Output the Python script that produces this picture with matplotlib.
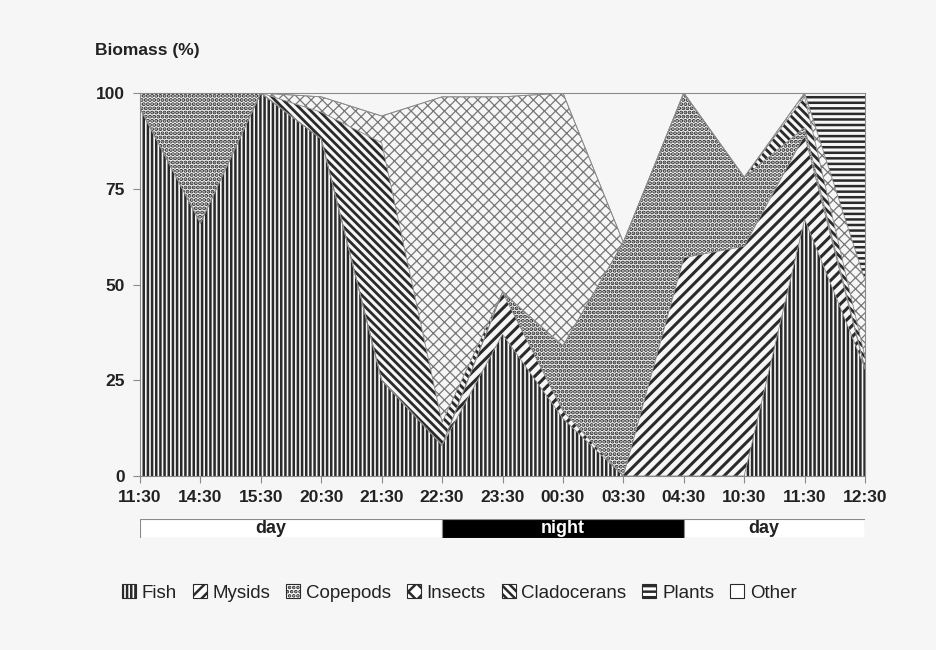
import numpy as np
import matplotlib.pyplot as plt
from matplotlib.patches import Patch

# sampling times (x categories)
times = ['11:30', '14:30', '15:30', '20:30', '21:30', '22:30', '23:30',
         '00:30', '03:30', '04:30', '10:30', '11:30', '12:30']

# biomass share (%) per prey group
fish = [96, 66, 100, 88, 25, 8, 37, 15, 0, 0, 0, 67, 28]
mysids = [0, 0, 0, 0, 0, 0, 11, 2, 0, 57, 60, 22, 0]
copepods = [4, 34, 0, 0, 0, 0, 0, 17, 61, 43, 18, 2, 0]
cladocerans = [0, 0, 0, 7, 62, 6, 0, 0, 0, 0, 0, 8, 3]
insects = [0, 0, 0, 4, 7, 85, 51, 66, 0, 0, 0, 1, 20]
plants = [0, 0, 0, 0, 0, 0, 0, 0, 0, 0, 0, 0, 49]
other = [0, 0, 0, 1, 6, 1, 1, 0, 39, 0, 22, 0, 0]

# day / night strip (category index ranges)
period_labels = ['day', 'night', 'day']
period_start = [0, 5, 9]
period_end = [5, 9, 12]

plt.rcParams['font.family'] = ['Liberation Sans', 'DejaVu Sans']
plt.rcParams['hatch.linewidth'] = 1.8

paper = '#f6f6f6'
ink = '#2a2a2a'
grey = '#8a8a8a'

fig = plt.figure(figsize=(9.37, 6.5), dpi=100, facecolor=paper)
ax = fig.add_axes([0.1494, 0.2677, 0.7738, 0.5892])
ax.set_facecolor(paper)

x = np.arange(len(times))
# stacking order as it appears in the plot (bottom -> top)
layers = [fish, mysids, copepods, cladocerans, insects, plants, other]
hatches = ['||||', '///', '....', '\\\\\\\\', 'xxx', '---', '']
hcols = [ink, ink, ink, ink, '#777777', ink, ink]
hlw = [1.8, 2.2, 2.0, 2.0, 0.9, 1.8, 1.0]

polys = ax.stackplot(x, layers)
for p, h, c, w in zip(polys, hatches, hcols, hlw):
    p.set_facecolor(paper)
    p.set_edgecolor(c)
    p.set_linewidth(0)
    p.set_hatch(h)
    if hasattr(p, 'set_hatch_linewidth'):
        p.set_hatch_linewidth(w)

# thin outlines between the areas
cum = np.cumsum(np.array(layers[:-1]), axis=0)
for row in cum:
    ax.plot(x, row, color=grey, lw=0.6)

ax.set_xlim(0, len(times) - 1)
ax.set_ylim(0, 100)
ax.set_xticks(x)
ax.set_xticklabels(times, fontweight='bold', fontsize=12.5, color='#222222')
ax.set_yticks([0, 25, 50, 75, 100])
ax.set_yticklabels(['0', '25', '50', '75', '100'], fontweight='bold', fontsize=12.5, color='#222222')
ax.tick_params(axis='both', color=grey, length=5, width=0.8)
ax.tick_params(axis='x', pad=5)
ax.tick_params(axis='y', pad=6)
for s in ax.spines.values():
    s.set_color(grey)
    s.set_linewidth(0.8)

fig.text(0.101, 0.923, 'Biomass (%)', fontweight='bold', fontsize=12.5,
         color='#222222', va='center')

# day / night strip under the x axis
ax2 = fig.add_axes([0.1494, 0.1723, 0.7738, 0.0292])
ax2.set_xlim(0, len(times) - 1)
ax2.set_ylim(0, 1)
ax2.axis('off')
shift = [-0.33, 0, -0.17]
for lab, a, b, sh in zip(period_labels, period_start, period_end, shift):
    night = lab == 'night'
    ax2.barh(0.5, b - a, left=a, height=1, color='black' if night else 'white',
             edgecolor=grey, lw=0.8)
    ax2.text((a + b) / 2 + sh, 0.5, lab, ha='center', va='center',
             fontweight='bold', fontsize=13,
             color='white' if night else '#222222')

# legend (listed order differs from stacking order)
leg_names = ['Fish', 'Mysids', 'Copepods', 'Insects', 'Cladocerans', 'Plants', 'Other']
leg_hatch = ['||||', '///', '....', 'xx', '\\\\\\\\', '---', '']
handles = [Patch(facecolor='white', edgecolor=ink, hatch=h, lw=0.8) for h in leg_hatch]
fig.legend(handles, leg_names, loc='center', bbox_to_anchor=(0.49, 0.088), ncol=7,
           frameon=False, fontsize=13.5, handlelength=0.75, handleheight=0.75,
           handletextpad=0.3, columnspacing=0.85, labelcolor='#222222')

plt.savefig('out.png', dpi=100, facecolor=paper)
plt.close()
